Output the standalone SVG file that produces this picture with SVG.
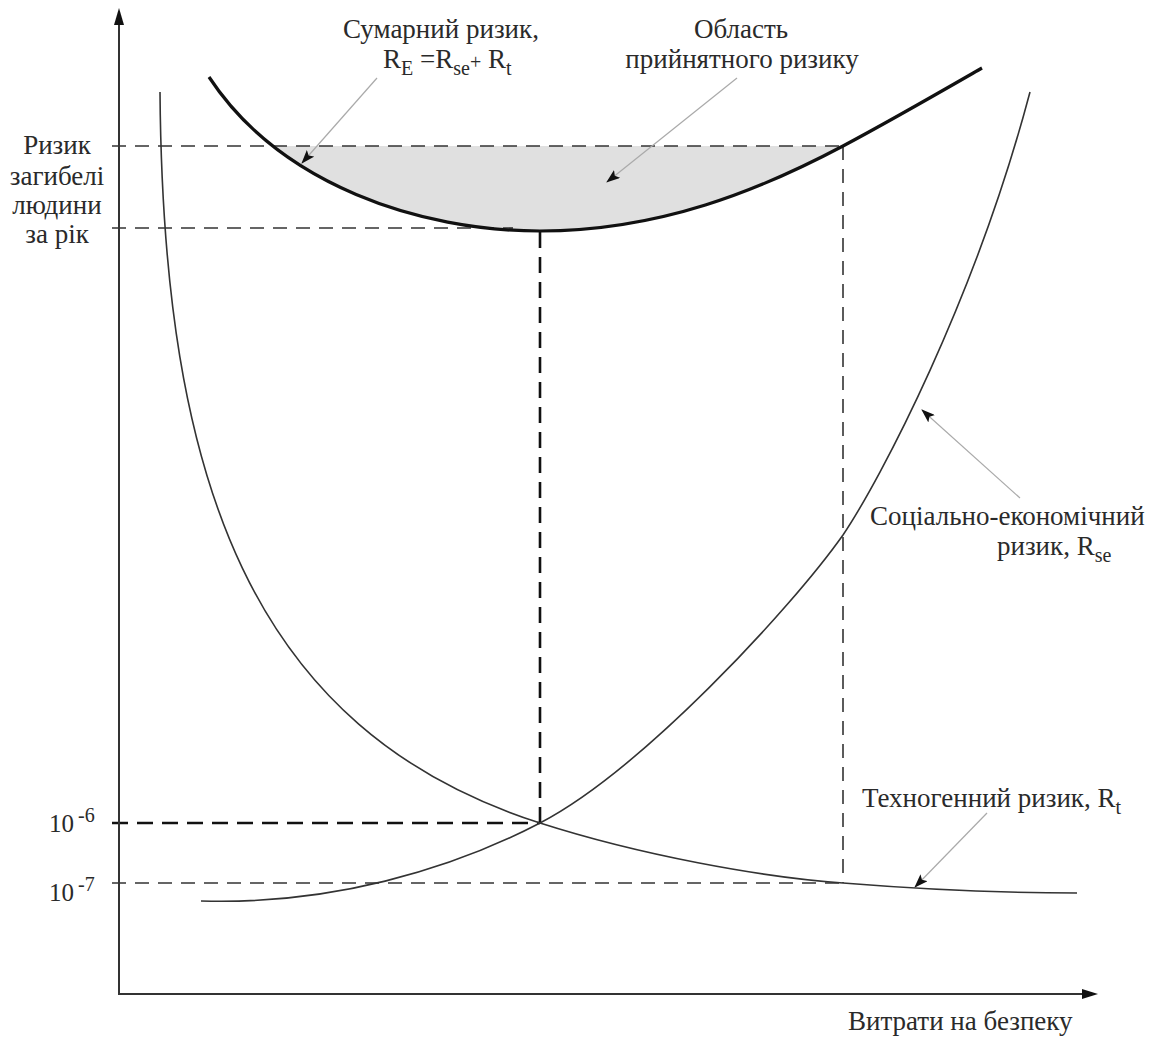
<svg xmlns="http://www.w3.org/2000/svg" width="1158" height="1039" viewBox="0 0 1158 1039">
<style>
.t{font-family:'Liberation Serif','Times New Roman','DejaVu Serif',serif;font-size:27px;fill:#2a2a2a}
.sub{font-size:20px}
.num{font-size:25px}
.axis{stroke:#333;stroke-width:2;fill:none}
.dash{stroke:#333;stroke-width:1.6;stroke-dasharray:14 9;fill:none}
.dashb{stroke:#111;stroke-width:2.6;stroke-dasharray:16 9;fill:none}
.curve{stroke:#333;stroke-width:1.6;fill:none}
.thick{stroke:#111;stroke-width:3.2;fill:none}
.leader{stroke:#aaa;stroke-width:1.2;fill:none;marker-end:url(#ah)}
</style>
<defs>
<marker id="ah" markerUnits="userSpaceOnUse" markerWidth="14" markerHeight="10" refX="13" refY="5" orient="auto">
<path d="M0,0 L14,5 L0,10 L3,5 Z" fill="#111"/>
</marker>
<clipPath id="band"><rect x="0" y="146" width="1158" height="200"/></clipPath>
</defs>
<rect width="1158" height="1039" fill="#fff"/>

<g id="area">
<path d="M209,77 C280,185 420,231 540,231 C660,231 760,190 843,146 C890,121 935,95 982,68 Z" fill="#e0e0e0" clip-path="url(#band)"/>
</g>

<g id="connectors">
<line class="dash" x1="112" y1="146" x2="843" y2="146"/>
<line class="dash" x1="112" y1="228" x2="513" y2="228"/>
<line class="dash" x1="112" y1="883" x2="843" y2="883"/>
<line class="dash" x1="843" y1="146" x2="843" y2="883"/>
<line class="dashb" x1="540" y1="232" x2="540" y2="823"/>
<line class="dashb" x1="112" y1="823" x2="540" y2="823"/>
<line class="leader" x1="377" y1="78" x2="302" y2="163"/>
<line class="leader" x1="737" y1="78" x2="607" y2="182"/>
<line class="leader" x1="1020" y1="498" x2="922" y2="410"/>
<line class="leader" x1="987" y1="813" x2="915" y2="887"/>
</g>

<g id="axes">
<line class="axis" x1="119" y1="994" x2="119" y2="20"/>
<path d="M119,8 L124,25 L114,25 Z" fill="#111"/>
<line class="axis" x1="118" y1="994" x2="1086" y2="994"/>
<path d="M1098,994 L1082,989 L1082,999 Z" fill="#111"/>
</g>

<g id="curve-total">
<path class="thick" d="M209,77 C280,185 420,231 540,231 C660,231 760,190 843,146 C890,121 935,95 982,68"/>
</g>
<g id="curve-tech">
<path class="curve" d="M160,92 C163,480 250,730 540,823 C640,855 760,877 843,883 C930,890 1000,893 1077,893"/>
</g>
<g id="curve-socio">
<path class="curve" d="M201,901 C330,905 450,870 540,823 C640,771 790,610 843,535 C880,480 975,300 1030,92"/>
</g>

<g id="label-y">
<text class="t" text-anchor="middle" x="57" y="154">Ризик</text>
<text class="t" text-anchor="middle" x="57" y="185">загибелі</text>
<text class="t" text-anchor="middle" x="57" y="214">людини</text>
<text class="t" text-anchor="middle" x="57" y="243">за рік</text>
</g>
<g id="label-1e6"><text class="t num" x="49" y="832">10<tspan x="78" y="822" font-size="20">-6</tspan></text></g>
<g id="label-1e7"><text class="t num" x="49" y="901">10<tspan x="78" y="891" font-size="20">-7</tspan></text></g>

<g id="label-total">
<text class="t" x="343" y="38">Сумарний ризик,</text>
<text class="t" x="383" y="68">R<tspan class="sub" dy="7">E</tspan><tspan dy="-7"> =R</tspan><tspan class="sub" dy="7">se</tspan><tspan class="sub" dy="-6">+</tspan><tspan dy="-1"> R</tspan><tspan class="sub" dy="7">t</tspan></text>
</g>
<g id="label-area">
<text class="t" text-anchor="middle" x="741" y="38">Область</text>
<text class="t" text-anchor="middle" x="742" y="68">прийнятного ризику</text>
</g>
<g id="label-socio">
<text class="t" x="870" y="525">Соціально-економічний</text>
<text class="t" x="997" y="555">ризик, R<tspan class="sub" dy="7">se</tspan></text>
</g>
<g id="label-tech">
<text class="t" x="862" y="807">Техногенний ризик, R<tspan class="sub" dy="7">t</tspan></text>
</g>
<g id="label-x">
<text class="t" x="848" y="1030">Витрати на безпеку</text>
</g>
</svg>
